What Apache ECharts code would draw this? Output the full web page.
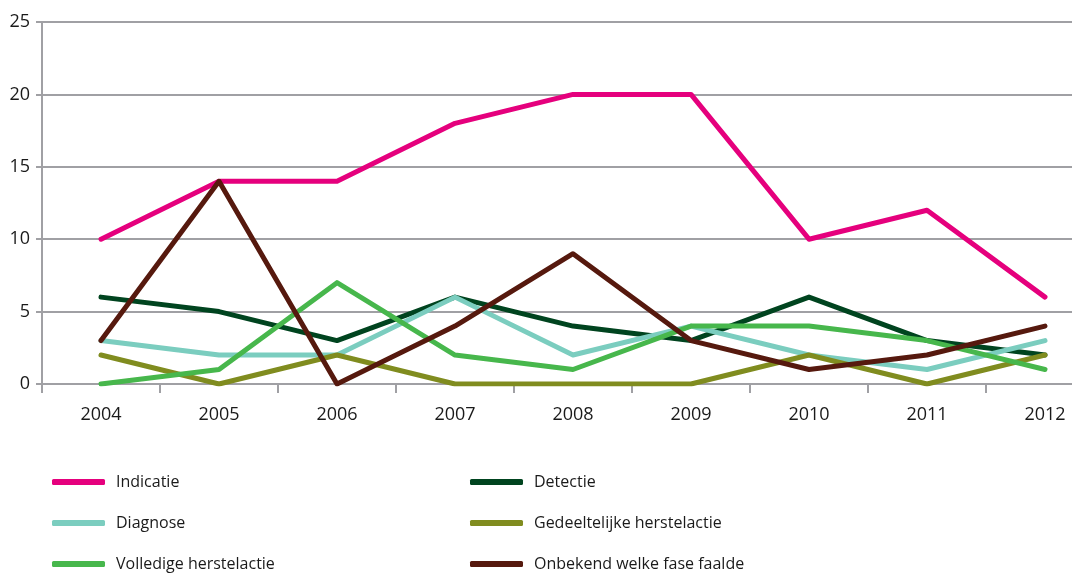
<!DOCTYPE html>
<html>
<head>
<meta charset="utf-8">
<script src="https://cdn.jsdelivr.net/npm/echarts@6/dist/echarts.min.js"></script>
<style>
  html, body { margin: 0; padding: 0; background: #fff; overflow: hidden; }
  /* the last category runs past the right edge in the original */
  #chart { width: 1104px; height: 573px; }
</style>
</head>
<body>
<div id="chart"></div>
<script>
const years = ['2004', '2005', '2006', '2007', '2008', '2009', '2010', '2011', '2012']
const indicatie = [10, 14, 14, 18, 20, 20, 10, 12, 6]
const detectie = [6, 5, 3, 6, 4, 3, 6, 3, 2]
const diagnose = [3, 2, 2, 6, 2, 4, 2, 1, 3]
const gedeeltelijk = [2, 0, 2, 0, 0, 0, 2, 0, 2]
const volledig = [0, 1, 7, 2, 1, 4, 4, 3, 1]
const onbekend = [3, 14, 0, 4, 9, 3, 1, 2, 4]

const font = 'Open Sans, Noto Sans, sans-serif'
const gridGray = '#a0a0a4'

const chart = echarts.init(document.getElementById('chart'))

const mkLine = (name, data, color) => ({
  name,
  type: 'line',
  data,
  symbol: 'none',
  lineStyle: { width: 5, color, cap: 'round', join: 'round' },
  itemStyle: { color },
  emphasis: { disabled: true }
})

const legendBase = {
  orient: 'vertical',
  top: 469,
  height: 140,
  itemWidth: 53,
  itemHeight: 6,
  itemGap: 25,
  icon: 'roundRect',
  textStyle: { fontFamily: font, fontSize: 16, color: '#1a1a1a', padding: [0, 0, 0, 6] }
}

chart.setOption({
  animation: false,
  grid: { left: 42, right: 0, top: 22, bottom: 189 },
  legend: [
    Object.assign({ left: 47, data: ['Indicatie', 'Diagnose', 'Volledige herstelactie'] }, legendBase),
    Object.assign({ left: 465, data: ['Detectie', 'Gedeeltelijke herstelactie', 'Onbekend welke fase faalde'] }, legendBase)
  ],
  xAxis: {
    type: 'category',
    data: years,
    boundaryGap: true,
    axisLine: { lineStyle: { color: gridGray, width: 2 } },
    axisTick: { show: true, length: 9, lineStyle: { color: gridGray, width: 2 } },
    axisLabel: { fontFamily: font, fontSize: 18, color: '#1a1a1a', margin: 22 }
  },
  yAxis: {
    type: 'value',
    min: 0,
    max: 25,
    interval: 5,
    axisLine: { show: true, lineStyle: { color: gridGray, width: 2 } },
    axisTick: { show: true, length: 6, lineStyle: { color: gridGray, width: 2 } },
    axisLabel: { fontFamily: font, fontSize: 18, color: '#1a1a1a', margin: 12 },
    splitLine: { lineStyle: { color: gridGray, width: 2 } }
  },
  series: [
    mkLine('Indicatie', indicatie, '#e5007d'),
    mkLine('Detectie', detectie, '#00441f'),
    mkLine('Diagnose', diagnose, '#7bcdbf'),
    mkLine('Gedeeltelijke herstelactie', gedeeltelijk, '#808c1f'),
    mkLine('Volledige herstelactie', volledig, '#47b74c'),
    mkLine('Onbekend welke fase faalde', onbekend, '#56190e')
  ]
})
</script>
</body>
</html>
